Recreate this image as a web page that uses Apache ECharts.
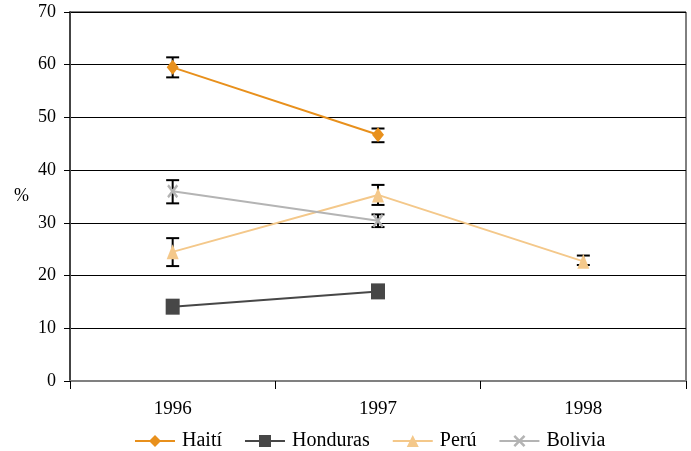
<!DOCTYPE html>
<html><head><meta charset="utf-8">
<script src="https://cdn.jsdelivr.net/npm/echarts@6/dist/echarts.min.js"></script>
<style>html,body{margin:0;padding:0;background:#fff}#c{width:691px;height:451px}</style>
</head><body><div id="c"></div>
<script>
const categories = ['1996', '1997', '1998'];
const haiti = [59.5, 46.7, null];
const haitiLow = [57.6, 45.3, null];
const haitiHigh = [61.4, 47.9, null];
const honduras = [14.1, 17.0, null];
const peru = [24.5, 35.3, 22.7];
const peruLow = [21.8, 33.4, 22.0];
const peruHigh = [27.1, 37.2, 23.8];
const bolivia = [36.0, 30.4, null];
const boliviaLow = [33.7, 29.2, null];
const boliviaHigh = [38.1, 31.6, null];
const yTicks = [0, 10, 20, 30, 40, 50, 60, 70];

const FONT = '"Liberation Serif", "Times New Roman", serif';
const chart = echarts.init(document.getElementById('c'));

function errSeries(low, high) {
  const data = [];
  low.forEach((l, i) => { if (l != null) data.push([i, l, high[i]]); });
  return {
    type: 'custom', silent: true, z: 1,
    renderItem: function (params, api) {
      const x = api.coord([api.value(0), api.value(1)])[0];
      const yl = api.coord([api.value(0), api.value(1)])[1];
      const yh = api.coord([api.value(0), api.value(2)])[1];
      const hw = 6.5;
      const st = { stroke: '#000', lineWidth: 2 };
      return { type: 'group', children: [
        { type: 'line', shape: { x1: x, y1: yl, x2: x, y2: yh }, style: st },
        { type: 'line', shape: { x1: x - hw, y1: yl, x2: x + hw, y2: yl }, style: st },
        { type: 'line', shape: { x1: x - hw, y1: yh, x2: x + hw, y2: yh }, style: st }
      ]};
    },
    data: data
  };
}

const xPath = 'path://M0,1.5L1.5,0L5,3.5L8.5,0L10,1.5L6.5,5L10,8.5L8.5,10L5,6.5L1.5,10L0,8.5L3.5,5Z';

chart.setOption({
  animation: false,
  grid: { left: 70, right: 5, top: 12, bottom: 70, show: true, borderColor: '#000', borderWidth: 1 },
  legend: {
    top: 431, left: 134, padding: 0, itemWidth: 40, itemHeight: 15, itemGap: 22,
    textStyle: { fontFamily: FONT, fontSize: 20, color: '#000', padding: [0, 0, 0, 2] },
    data: ['Haití', 'Honduras', 'Perú', 'Bolivia']
  },
  xAxis: {
    type: 'category', data: categories, boundaryGap: true,
    axisLine: { lineStyle: { color: '#808080', width: 2 } },
    axisTick: { show: true, length: 8, lineStyle: { color: '#000', width: 1 } },
    axisLabel: { fontFamily: FONT, fontSize: 19, color: '#000', margin: 19 }
  },
  yAxis: {
    type: 'value', min: 0, max: 70, interval: 10,
    name: '%', nameLocation: 'middle', nameRotate: 0, nameGap: 41,
    nameTextStyle: { fontFamily: FONT, fontSize: 18, color: '#000' },
    axisLine: { show: true, lineStyle: { color: '#444', width: 2 } },
    axisTick: { show: true, inside: false, length: 6, lineStyle: { color: '#000' } },
    axisLabel: { fontFamily: FONT, fontSize: 18, color: '#000', margin: 14 },
    splitLine: { lineStyle: { color: '#000', width: 1 } }
  },
  series: [
    errSeries(haitiLow, haitiHigh),
    errSeries(peruLow, peruHigh),
    errSeries(boliviaLow, boliviaHigh),
    { name: 'Haití', type: 'line', data: haiti, z: 3, symbol: 'diamond', symbolSize: [12, 15],
      lineStyle: { color: '#E8901C', width: 2 }, itemStyle: { color: '#E8901C' } },
    { name: 'Honduras', type: 'line', data: honduras, z: 3, symbol: 'rect', symbolSize: [14, 16],
      lineStyle: { color: '#474747', width: 2 }, itemStyle: { color: '#474747' } },
    { name: 'Perú', type: 'line', data: peru, z: 3, symbol: 'triangle', symbolSize: [12, 15],
      lineStyle: { color: '#F4C88A', width: 2 }, itemStyle: { color: '#F4C88A' } },
    { name: 'Bolivia', type: 'line', data: bolivia, z: 3, symbol: xPath, symbolSize: [11, 14],
      lineStyle: { color: '#B4B4B4', width: 2 }, itemStyle: { color: '#B4B4B4' } }
  ]
});
</script></body></html>
